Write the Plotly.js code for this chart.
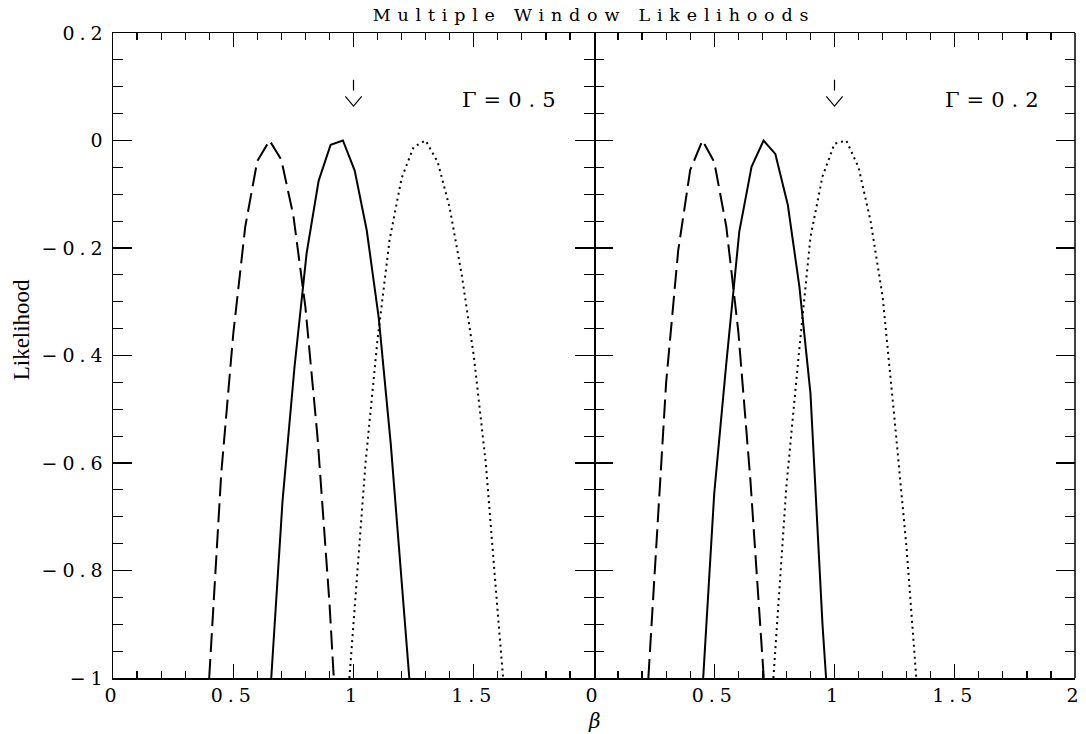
<!DOCTYPE html>
<html>
<head>
<meta charset="utf-8">
<script src="https://cdn.plot.ly/plotly-3.0.1.min.js"></script>
<style>html,body{margin:0;padding:0;background:#fff;}</style>
</head>
<body>
<div id="chart" style="width:1086px;height:734px;"></div>
<script>
// ---- Data ----
// Left panel: Gamma = 0.5
const dashedL_x = [0.400, 0.45, 0.50, 0.55, 0.60, 0.651, 0.70, 0.75, 0.80, 0.85, 0.90, 0.918];
const dashedL_y = [-1, -0.62, -0.36, -0.16, -0.038, 0, -0.036, -0.14, -0.31, -0.55, -0.86, -1];
const solidL_x  = [0.658, 0.705, 0.755, 0.805, 0.855, 0.905, 0.956, 1.005, 1.055, 1.105, 1.155, 1.205, 1.232];
const solidL_y  = [-1, -0.67, -0.42, -0.21, -0.075, -0.008, 0, -0.056, -0.167, -0.33, -0.565, -0.84, -1];
const dottedL_x = [0.983, 1.00, 1.05, 1.10, 1.15, 1.20, 1.25, 1.30, 1.35, 1.40, 1.45, 1.50, 1.55, 1.60, 1.622];
const dottedL_y = [-1, -0.895, -0.60, -0.37, -0.185, -0.07, -0.012, 0, -0.04, -0.125, -0.25, -0.40, -0.60, -0.88, -1];
// Right panel: Gamma = 0.2
const dashedR_x = [0.226, 0.25, 0.30, 0.35, 0.40, 0.451, 0.50, 0.55, 0.60, 0.65, 0.70, 0.706];
const dashedR_y = [-1, -0.82, -0.45, -0.205, -0.055, 0, -0.04, -0.16, -0.355, -0.63, -0.96, -1];
const solidR_x  = [0.454, 0.50, 0.55, 0.604, 0.655, 0.705, 0.754, 0.806, 0.854, 0.90, 0.95, 0.965];
const solidR_y  = [-1, -0.656, -0.415, -0.17, -0.049, 0, -0.025, -0.12, -0.272, -0.47, -0.90, -1];
const dottedR_x = [0.746, 0.80, 0.85, 0.90, 0.95, 1.00, 1.049, 1.10, 1.15, 1.20, 1.25, 1.30, 1.340];
const dottedR_y = [-1, -0.643, -0.405, -0.18, -0.067, -0.006, 0, -0.05, -0.15, -0.29, -0.52, -0.76, -1];

// true beta marked by arrows, panel labels
const trueBeta = 1;
const panelLabels = ["Γ=0.5", "Γ=0.2"];

// tick labels
const xTickVals   = [0, 0.5, 1, 1.5, 2];
const xTickTextL  = ["0", "0.5", "1", "1.5", ""];
const xTickTextR  = ["0", "0.5", "1", "1.5", "2"];
const yTickVals   = [-1, -0.8, -0.6, -0.4, -0.2, 0, 0.2];
const yTickText   = ["−1", "−0.8", "−0.6", "−0.4", "−0.2", "0", "0.2"];

// ---- helpers ----
const sp = (t, px) => `<span style="letter-spacing:${px}px">${t}</span>`;
const FONT = "DejaVu Serif";

function curve(x, y, ax, dash) {
  return {x, y, xaxis: ax.x, yaxis: ax.y, mode: 'lines', hoverinfo: 'skip', showlegend: false,
          line: {color: '#000', width: 2, dash: dash}};
}
function arrowTraces(ax) {
  const stem = {x: [trueBeta, trueBeta], y: [0.113, 0.093], xaxis: ax.x, yaxis: ax.y,
                mode: 'lines', hoverinfo: 'skip', showlegend: false, line: {color: '#000', width: 1.2}};
  const head = {x: [trueBeta - 0.034, trueBeta, trueBeta + 0.034], y: [0.082, 0.064, 0.082],
                xaxis: ax.x, yaxis: ax.y, mode: 'lines', hoverinfo: 'skip', showlegend: false,
                line: {color: '#000', width: 1.2}};
  return [stem, head];
}
const A1 = {x: 'x', y: 'y'}, A2 = {x: 'x2', y: 'y2'};
const data = [
  curve(dashedL_x, dashedL_y, A1, '19px,7px'),
  curve(solidL_x, solidL_y, A1, 'solid'),
  curve(dottedL_x, dottedL_y, A1, '2px,4px'),
  curve(dashedR_x, dashedR_y, A2, '19px,7px'),
  curve(solidR_x, solidR_y, A2, 'solid'),
  curve(dottedR_x, dottedR_y, A2, '2px,4px'),
  ...arrowTraces(A1), ...arrowTraces(A2)
];

const tickFont = {family: FONT, size: 19, color: '#000'};
function xAxis(domain, anchor, ticktext) {
  return {
    domain, anchor, range: [0, 2], showgrid: false, zeroline: false,
    showline: true, linecolor: '#000', linewidth: 1.5, mirror: 'allticks',
    ticks: 'inside', ticklen: 14, tickwidth: 1.2, tickcolor: '#000',
    tickmode: 'array', tickvals: xTickVals,
    ticktext: ticktext.map(t => t ? sp(t, 5) : t),
    tickfont: tickFont,
    minor: {tickmode: 'linear', tick0: 0, dtick: 0.1, ticks: 'inside', ticklen: 7, tickwidth: 1.2, tickcolor: '#000', showgrid: false}
  };
}
function yAxis(anchor, showLabels, showLine, matches) {
  const a = {
    anchor, domain: [0, 1], range: [-1, 0.2], showgrid: false, zeroline: false,
    showline: showLine, linecolor: '#000', linewidth: 1.5, mirror: 'allticks',
    ticks: 'inside', ticklen: 19, tickwidth: 1.2, tickcolor: '#000',
    tickmode: 'array', tickvals: yTickVals, ticktext: yTickText.map(t => sp(t, 5)),
    showticklabels: showLabels, tickfont: tickFont,
    minor: {tickmode: 'linear', tick0: 0, dtick: 0.05, ticks: 'inside', ticklen: 10, tickwidth: 1.2, tickcolor: '#000', showgrid: false}
  };
  if (matches) a.matches = matches;
  return a;
}

const layout = {
  width: 1086, height: 734,
  margin: {l: 113, r: 11, t: 33, b: 56},
  paper_bgcolor: '#fff', plot_bgcolor: '#fff',
  showlegend: false,
  title: {text: sp("Multiple Window Likelihoods", 6.8), font: {family: FONT, size: 17.5, color: '#000'},
          xref: 'paper', x: 0.5, xanchor: 'center', yref: 'container', y: 0.98, yanchor: 'middle'},
  xaxis: xAxis([0, 0.5], 'y', xTickTextL),
  xaxis2: xAxis([0.5, 1], 'y2', xTickTextR),
  yaxis: yAxis('x', true, true),
  yaxis2: yAxis('x2', false, false, 'y'),
  shapes: [
    {type: 'line', xref: 'paper', yref: 'paper', x0: 1, x1: 1, y0: 0, y1: 1, line: {color: '#000', width: 1.5}}
  ],
  annotations: [
    {text: sp(panelLabels[0], 7), xref: 'x', yref: 'y', x: 1.66, y: 0.075, showarrow: false,
     xanchor: 'center', yanchor: 'middle', font: {family: FONT, size: 21, color: '#000'}},
    {text: sp(panelLabels[1], 7), xref: 'x2', yref: 'y2', x: 1.67, y: 0.075, showarrow: false,
     xanchor: 'center', yanchor: 'middle', font: {family: FONT, size: 21, color: '#000'}},
    {text: '<i>β</i>', xref: 'paper', yref: 'paper', x: 0.5, y: -0.067, showarrow: false,
     xanchor: 'center', yanchor: 'middle', font: {family: FONT, size: 20, color: '#000'}},
    {text: 'Likelihood', xref: 'paper', yref: 'paper', x: -0.095, y: 0.54, showarrow: false,
     textangle: -90, xanchor: 'center', yanchor: 'middle', font: {family: 'Liberation Serif', size: 23, color: '#000'}}
  ]
};

Plotly.newPlot('chart', data, layout, {displayModeBar: false, staticPlot: true});
</script>
</body>
</html>
